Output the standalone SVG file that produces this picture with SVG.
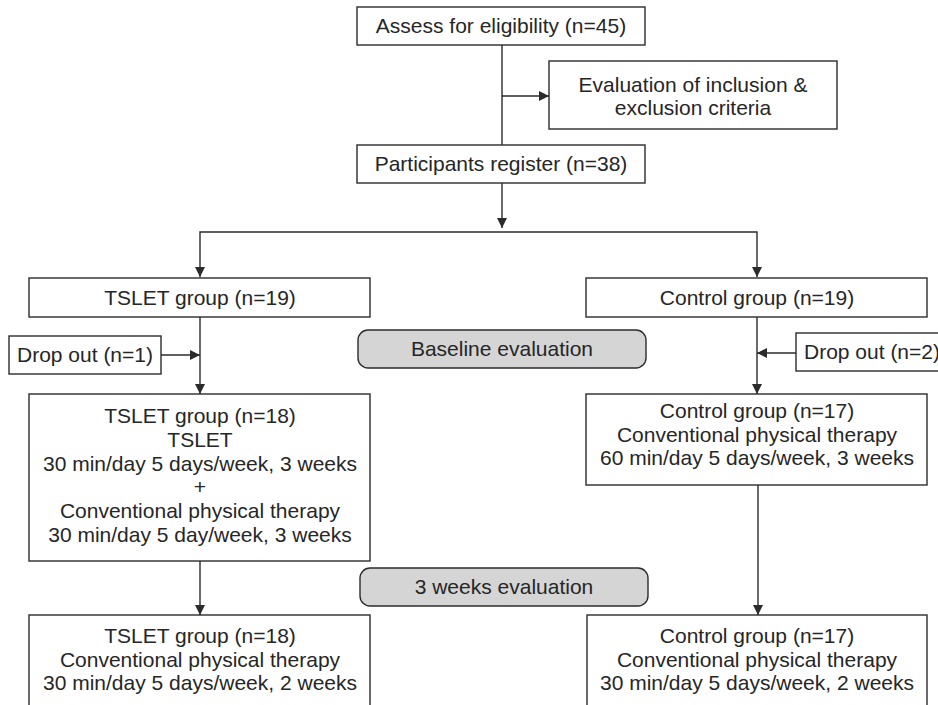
<svg xmlns="http://www.w3.org/2000/svg" width="938" height="705" viewBox="0 0 938 705">
<defs>
<marker id="ah" markerUnits="userSpaceOnUse" markerWidth="12" markerHeight="12" viewBox="0 0 12 12" refX="11" refY="6" orient="auto">
<path d="M1,1 L11,6 L1,11 Z" fill="#2b2b2b"/>
</marker>
<style>
.box{fill:#fff;stroke:#2b2b2b;stroke-width:1.4}
.pill{fill:#d5d5d5;stroke:#2b2b2b;stroke-width:1.4}
.t{font-family:"Liberation Sans",Arial,sans-serif;font-size:21px;fill:#262626;text-anchor:middle}
.c{fill:none;stroke:#2b2b2b;stroke-width:1.4}
.ca{fill:none;stroke:#2b2b2b;stroke-width:1.4;marker-end:url(#ah)}
</style>
</defs>
<rect width="938" height="705" fill="#fff"/>
<g id="connectors">
<path class="c" d="M502,45 V145"/>
<path class="ca" d="M502,96 H549"/>
<path class="ca" d="M502,183 V228"/>
<path class="ca" d="M502,232 H200 V277"/>
<path class="ca" d="M502,232 H757 V277"/>
<path class="ca" d="M200,317 V394"/>
<path class="ca" d="M161,355 H200"/>
<path class="ca" d="M757,317 V394"/>
<path class="ca" d="M796,353 H757"/>
<path class="ca" d="M200,561 V615"/>
<path class="ca" d="M758,485 V615"/>
</g>
<g id="assess">
<rect class="box" x="357" y="7" width="288" height="38"/>
<text class="t" x="501" y="33">Assess for eligibility (n=45)</text>
</g>
<g id="evaluation">
<rect class="box" x="549" y="61" width="288" height="68"/>
<text class="t" x="693" y="92">Evaluation of inclusion &amp;</text>
<text class="t" x="693" y="115">exclusion criteria</text>
</g>
<g id="register">
<rect class="box" x="357" y="145" width="288" height="38"/>
<text class="t" x="501" y="171">Participants register (n=38)</text>
</g>
<g id="tslet19">
<rect class="box" x="29" y="278" width="341" height="39"/>
<text class="t" x="200" y="305">TSLET group (n=19)</text>
</g>
<g id="control19">
<rect class="box" x="586" y="278" width="341" height="39"/>
<text class="t" x="757" y="305">Control group (n=19)</text>
</g>
<g id="dropout1">
<rect class="box" x="9" y="336" width="152" height="38"/>
<text class="t" x="85" y="362">Drop out (n=1)</text>
</g>
<g id="baseline">
<rect class="pill" x="358" y="330" width="288" height="38" rx="10" ry="10"/>
<text class="t" x="502" y="356">Baseline evaluation</text>
</g>
<g id="dropout2">
<rect class="box" x="796" y="333" width="152" height="38"/>
<text class="t" x="872" y="359">Drop out (n=2)</text>
</g>
<g id="tslet18">
<rect class="box" x="29" y="394" width="341" height="167"/>
<text class="t" x="200" y="423">TSLET group (n=18)</text>
<text class="t" x="200" y="447">TSLET</text>
<text class="t" x="200" y="471">30 min/day 5 days/week, 3 weeks</text>
<text class="t" x="200" y="494">+</text>
<text class="t" x="200" y="518">Conventional physical therapy</text>
<text class="t" x="200" y="542">30 min/day 5 day/week, 3 weeks</text>
</g>
<g id="control17">
<rect class="box" x="586" y="394" width="341" height="91"/>
<text class="t" x="757" y="418">Control group (n=17)</text>
<text class="t" x="757" y="442">Conventional physical therapy</text>
<text class="t" x="757" y="465">60 min/day 5 days/week, 3 weeks</text>
</g>
<g id="eval3">
<rect class="pill" x="360" y="568" width="288" height="38" rx="10" ry="10"/>
<text class="t" x="504" y="594">3 weeks evaluation</text>
</g>
<g id="tslet18b">
<rect class="box" x="29" y="615" width="341" height="100"/>
<text class="t" x="200" y="643">TSLET group (n=18)</text>
<text class="t" x="200" y="667">Conventional physical therapy</text>
<text class="t" x="200" y="690">30 min/day 5 days/week, 2 weeks</text>
</g>
<g id="control17b">
<rect class="box" x="587" y="615" width="340" height="100"/>
<text class="t" x="757" y="643">Control group (n=17)</text>
<text class="t" x="757" y="667">Conventional physical therapy</text>
<text class="t" x="757" y="690">30 min/day 5 days/week, 2 weeks</text>
</g>
</svg>
